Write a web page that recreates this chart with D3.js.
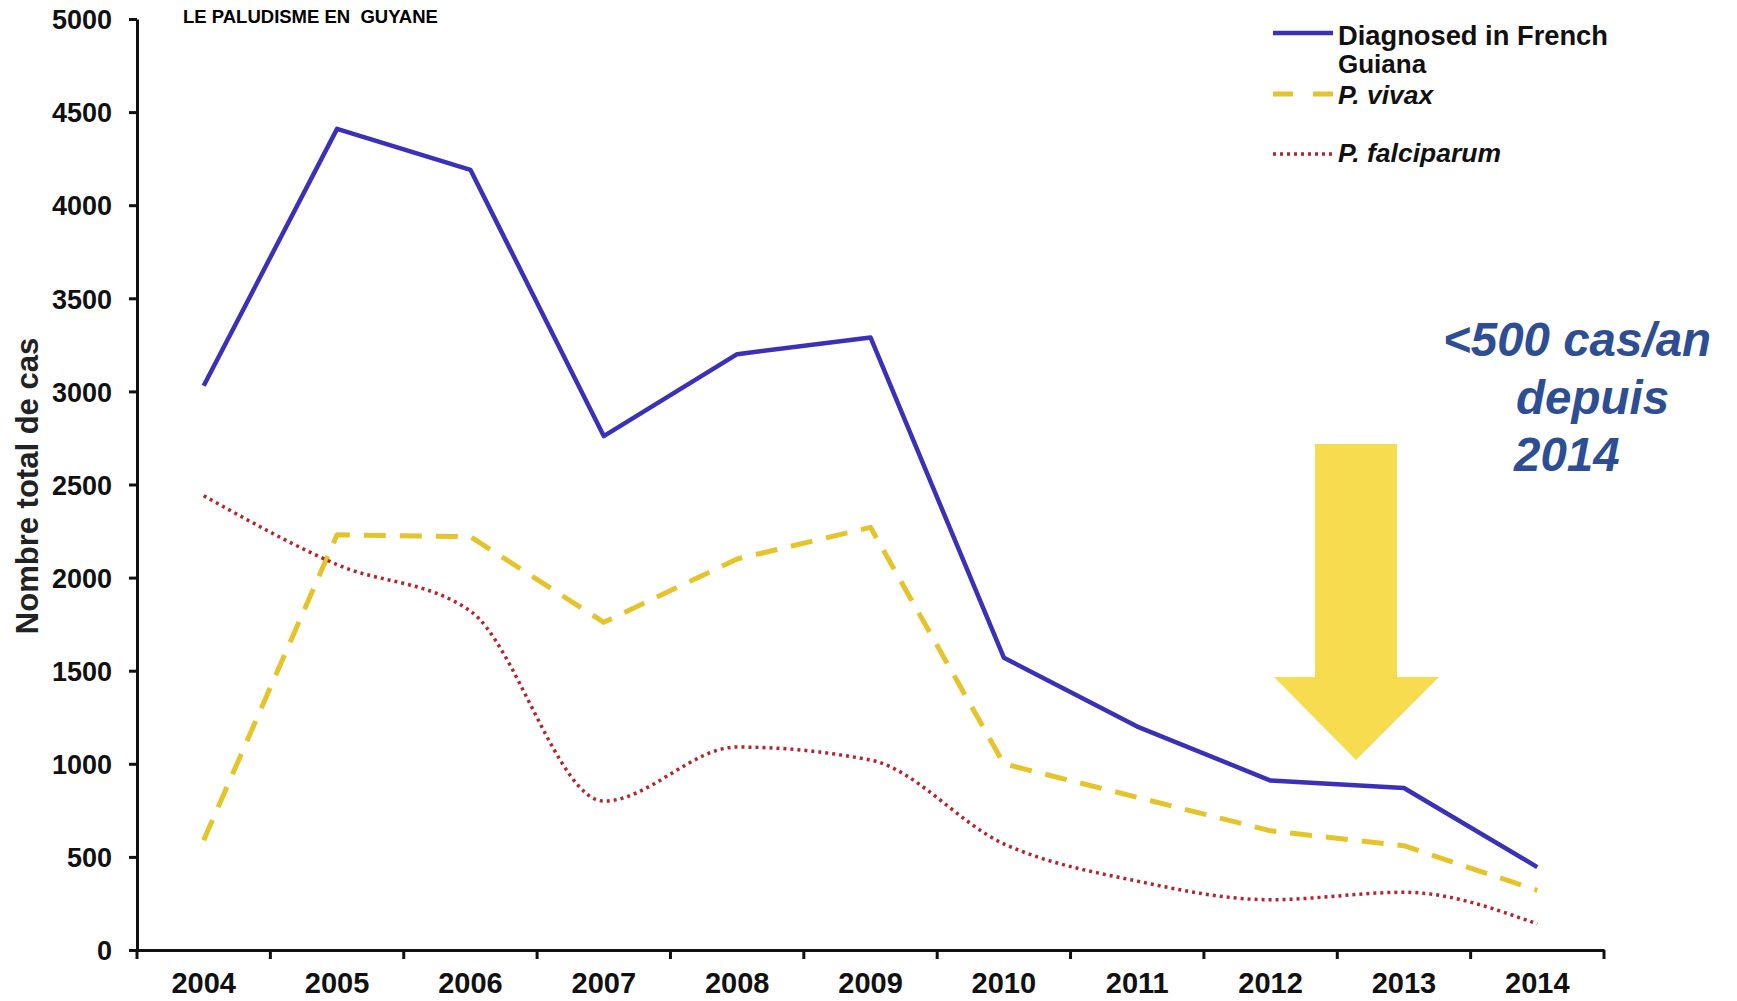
<!DOCTYPE html>
<html>
<head>
<meta charset="utf-8">
<script src="https://cdn.jsdelivr.net/npm/d3@7"></script>
<style>
  html, body { margin: 0; padding: 0; background: #fff; }
  svg { display: block; }
  .tick-label { font-family: "Liberation Sans Narrow", "Arial Narrow", "Liberation Sans", Arial, sans-serif; font-weight: bold; fill: #111; }
</style>
</head>
<body>
<svg id="chart" width="1737" height="1001"></svg>
<script>
// values
const years = ['2004', '2005', '2006', '2007', '2008', '2009', '2010', '2011', '2012', '2013', '2014'];
const diagnosed = [3030, 4410, 4190, 2760, 3200, 3290, 1570, 1200, 910, 870, 445];
const vivax = [590, 2230, 2220, 1760, 2100, 2270, 1000, 820, 640, 560, 320];
const falciparum = [2440, 2070, 1820, 800, 1090, 1020, 570, 370, 270, 310, 140];
const yTicks = [0, 500, 1000, 1500, 2000, 2500, 3000, 3500, 4000, 4500, 5000];

const seriesList = [
  { name: 'Diagnosed in French', name2: 'Guiana', values: diagnosed, color: '#3b30b8', width: 4.5, dash: null, italic: false, curve: d3.curveLinear },
  { name: 'P. vivax', values: vivax, color: '#e5c42b', width: 5, dash: '22,14', italic: true, curve: d3.curveLinear },
  { name: 'P. falciparum', values: falciparum, color: '#b3262f', width: 3.5, dash: '3,4', italic: true, curve: d3.curveMonotoneX }
];

const svg = d3.select('#chart');
svg.append('rect').attr('width', 1737).attr('height', 1001).attr('fill', '#fff');

const x = d3.scaleBand().domain(years).range([137, 1604]);
const y = d3.scaleLinear().domain([0, 5000]).range([950, 19]);

// y axis
const yAxis = svg.append('g')
  .attr('transform', `translate(${x.range()[0]},0)`)
  .call(d3.axisLeft(y).tickValues(yTicks).tickFormat(d3.format('d')).tickSize(8).tickPadding(17).tickSizeOuter(0));
yAxis.select('.domain').attr('stroke', '#111').attr('stroke-width', 3);
yAxis.selectAll('.tick line').attr('stroke', '#111').attr('stroke-width', 3);
yAxis.selectAll('.tick text').attr('class', 'tick-label').style('font-size', '27px').attr('dy', '0.36em');

// x axis: labels centred in bands, tick marks on band edges
const xAxis = svg.append('g')
  .attr('transform', `translate(0,${y(0)})`)
  .call(d3.axisBottom(x).tickSize(0).tickPadding(22).tickSizeOuter(0));
xAxis.select('.domain').attr('stroke', '#111').attr('stroke-width', 3);
xAxis.selectAll('.tick text').attr('class', 'tick-label').style('font-size', '29px');
const edges = years.map(d => x(d)).concat([x.range()[1]]);
xAxis.selectAll('line.edge')
  .data(edges)
  .join('line')
  .attr('class', 'edge')
  .attr('x1', d => d).attr('x2', d => d)
  .attr('y1', 0).attr('y2', 9)
  .attr('stroke', '#111').attr('stroke-width', 3);

// lines
for (const s of seriesList) {
  const line = d3.line()
    .x((v, i) => x(years[i]) + x.bandwidth() / 2)
    .y(v => y(v))
    .curve(s.curve);
  svg.append('path')
    .datum(s.values)
    .attr('d', line)
    .attr('fill', 'none')
    .attr('stroke', s.color)
    .attr('stroke-width', s.width)
    .attr('stroke-dasharray', s.dash)
    .attr('stroke-linejoin', 'round');
}

// title
svg.append('text')
  .attr('x', 183).attr('y', 23)
  .style('font-family', '"Liberation Sans", Arial, sans-serif')
  .style('font-weight', 'bold')
  .style('font-size', '18.5px')
  .style('white-space', 'pre')
  .attr('fill', '#000')
  .text('LE PALUDISME EN  GUYANE');

// y axis title
svg.append('text')
  .attr('transform', 'translate(38,486) rotate(-90)')
  .attr('text-anchor', 'middle')
  .style('font-family', '"Liberation Sans", Arial, sans-serif')
  .style('font-weight', 'bold')
  .style('font-size', '31px')
  .attr('fill', '#222')
  .text('Nombre total de cas');

// legend
const legendRows = [
  { s: seriesList[0], ly: 33, ty: 45 },
  { s: seriesList[1], ly: 94, ty: 104 },
  { s: seriesList[2], ly: 154, ty: 162 }
];
const legend = svg.append('g')
  .style('font-family', '"Liberation Sans", Arial, sans-serif')
  .style('font-weight', 'bold')
  .style('font-size', '26.5px');
legendRows.forEach(r => {
  legend.append('line')
    .attr('x1', 1273).attr('x2', 1333)
    .attr('y1', r.ly).attr('y2', r.ly)
    .attr('stroke', r.s.color)
    .attr('stroke-width', r.s.width)
    .attr('stroke-dasharray', r.s.dash === '22,14' ? '20,20' : r.s.dash);
  legend.append('text')
    .attr('x', 1338).attr('y', r.ty)
    .attr('fill', '#111')
    .style('font-style', r.s.italic ? 'italic' : 'normal')
    .style('font-size', r.s.italic ? '26.5px' : '27.3px')
    .text(r.s.name);
  if (r.s.name2) {
    legend.append('text').attr('x', 1338).attr('y', r.ty + 28).attr('fill', '#111').style('font-size', '26px').text(r.s.name2);
  }
});

// annotation arrow
const arrow = [[1315, 444], [1397, 444], [1397, 677], [1439, 677], [1356, 760], [1274, 677], [1315, 677]];
svg.append('path')
  .attr('d', d3.line()(arrow) + 'Z')
  .attr('fill', '#f8dc50');

// annotation text
const note = svg.append('g')
  .style('font-family', '"Liberation Sans", Arial, sans-serif')
  .style('font-weight', 'bold')
  .style('font-style', 'italic')
  .style('font-size', '47.5px')
  .attr('fill', '#2e4e93');
note.append('text').attr('x', 1443).attr('y', 356).text('<500 cas/an');
note.append('text').attr('x', 1516).attr('y', 414).text('depuis');
note.append('text').attr('x', 1514).attr('y', 471).text('2014');
</script>
</body>
</html>
